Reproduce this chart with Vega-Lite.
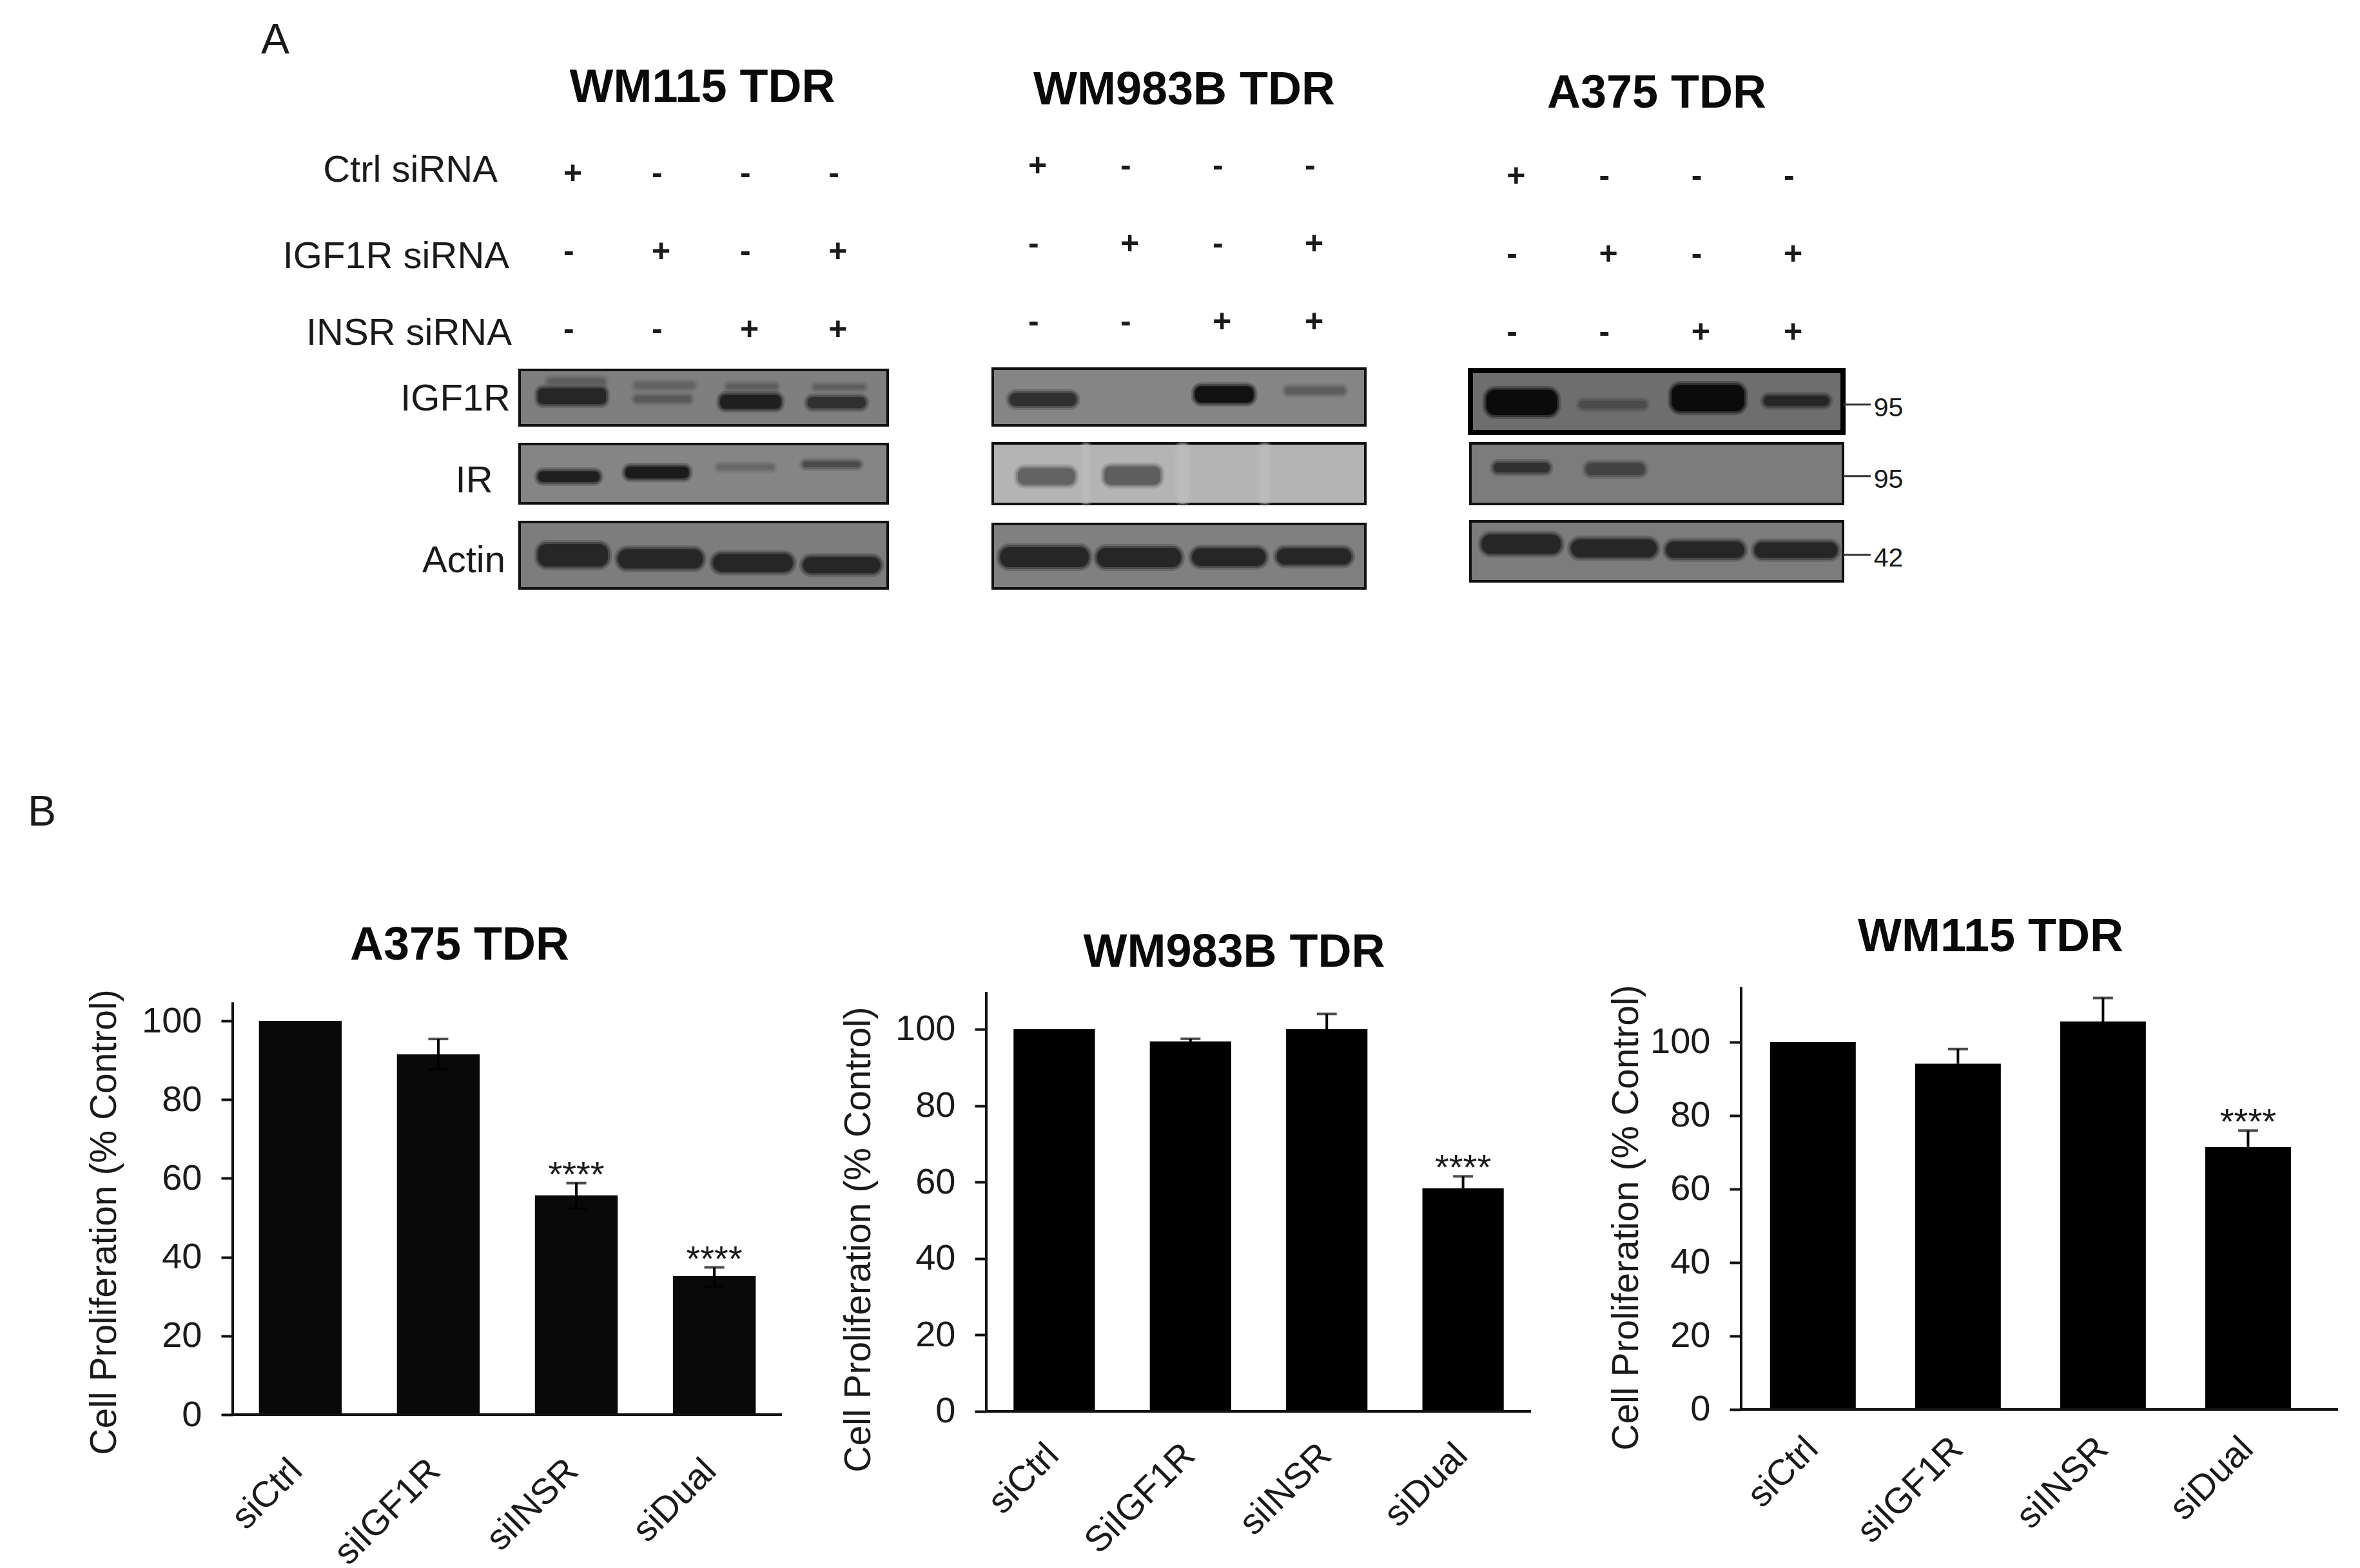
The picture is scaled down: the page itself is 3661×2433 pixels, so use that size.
{"$schema":"https://vega.github.io/schema/vega-lite/v6.json","background":"white","padding":{"left":42,"top":30,"right":0,"bottom":0},"bounds":"flush","spacing":1320,
"config":{"view":{"stroke":null},"font":"Liberation Sans","concat":{"spacing":0},"text":{"font":"Liberation Sans","color":"#1a1a1a"},"axis":{"labelFont":"Liberation Sans","titleFont":"Liberation Sans","labelColor":"#1a1a1a","titleColor":"#1a1a1a","grid":false}},
"datasets":{
"treat":[{"t":"Ctrl siRNA","lane":1,"s":"+"},{"t":"Ctrl siRNA","lane":2,"s":"-"},{"t":"Ctrl siRNA","lane":3,"s":"-"},{"t":"Ctrl siRNA","lane":4,"s":"-"},{"t":"IGF1R siRNA","lane":1,"s":"-"},{"t":"IGF1R siRNA","lane":2,"s":"+"},{"t":"IGF1R siRNA","lane":3,"s":"-"},{"t":"IGF1R siRNA","lane":4,"s":"+"},{"t":"INSR siRNA","lane":1,"s":"-"},{"t":"INSR siRNA","lane":2,"s":"-"},{"t":"INSR siRNA","lane":3,"s":"+"},{"t":"INSR siRNA","lane":4,"s":"+"}],
"treatLabels":[{"t":"Ctrl siRNA","lane":0.255},{"t":"IGF1R siRNA","lane":0.387},{"t":"INSR siRNA","lane":0.416}],
"bands":[
{"b":"115I","x0":0.3,"x1":0.93,"y0":0.16,"y1":0.26,"d":0.6},{"b":"115I","x0":0.2,"x1":0.94,"y0":0.33,"y1":0.62,"d":0.85},{"b":"115I","x0":1.25,"x1":1.9,"y0":0.23,"y1":0.33,"d":0.58},{"b":"115I","x0":1.25,"x1":1.86,"y0":0.47,"y1":0.58,"d":0.62},{"b":"115I","x0":2.25,"x1":2.8,"y0":0.26,"y1":0.35,"d":0.6},{"b":"115I","x0":2.18,"x1":2.84,"y0":0.45,"y1":0.7,"d":0.88},{"b":"115I","x0":3.2,"x1":3.75,"y0":0.27,"y1":0.35,"d":0.6},{"b":"115I","x0":3.13,"x1":3.76,"y0":0.49,"y1":0.69,"d":0.8},
{"b":"115R","x0":0.2,"x1":0.87,"y0":0.46,"y1":0.64,"d":0.88},{"b":"115R","x0":1.15,"x1":1.84,"y0":0.38,"y1":0.58,"d":0.9},{"b":"115R","x0":2.15,"x1":2.76,"y0":0.35,"y1":0.43,"d":0.57},{"b":"115R","x0":3.08,"x1":3.7,"y0":0.3,"y1":0.39,"d":0.68},
{"b":"115A","x0":0.2,"x1":0.96,"y0":0.33,"y1":0.67,"d":0.85},{"b":"115A","x0":1.07,"x1":1.99,"y0":0.41,"y1":0.7,"d":0.85},{"b":"115A","x0":2.1,"x1":2.97,"y0":0.48,"y1":0.75,"d":0.85},{"b":"115A","x0":3.08,"x1":3.92,"y0":0.53,"y1":0.77,"d":0.85},
{"b":"983I","x0":0.18,"x1":0.9,"y0":0.43,"y1":0.66,"d":0.8},{"b":"983I","x0":2.17,"x1":2.8,"y0":0.31,"y1":0.6,"d":0.95},{"b":"983I","x0":3.14,"x1":3.78,"y0":0.33,"y1":0.45,"d":0.6},
{"b":"983R","x0":0.97,"x1":1.03,"y0":0.03,"y1":0.97,"d":0.24},{"b":"983R","x0":1.98,"x1":2.1,"y0":0.03,"y1":0.97,"d":0.24},{"b":"983R","x0":2.87,"x1":2.97,"y0":0.03,"y1":0.97,"d":0.24},{"b":"983R","x0":0.27,"x1":0.88,"y0":0.41,"y1":0.68,"d":0.58},{"b":"983R","x0":1.2,"x1":1.8,"y0":0.38,"y1":0.68,"d":0.6},
{"b":"983A","x0":0.08,"x1":1.03,"y0":0.36,"y1":0.67,"d":0.85},{"b":"983A","x0":1.12,"x1":2.02,"y0":0.37,"y1":0.67,"d":0.85},{"b":"983A","x0":2.14,"x1":2.93,"y0":0.38,"y1":0.65,"d":0.85},{"b":"983A","x0":3.05,"x1":3.85,"y0":0.38,"y1":0.63,"d":0.85},
{"b":"375I","x0":0.17,"x1":0.93,"y0":0.31,"y1":0.72,"d":0.97},{"b":"375I","x0":1.17,"x1":1.89,"y0":0.49,"y1":0.61,"d":0.68},{"b":"375I","x0":2.16,"x1":2.94,"y0":0.23,"y1":0.66,"d":0.97},{"b":"375I","x0":3.15,"x1":3.85,"y0":0.41,"y1":0.57,"d":0.85},
{"b":"375R","x0":0.25,"x1":0.85,"y0":0.32,"y1":0.48,"d":0.8},{"b":"375R","x0":1.24,"x1":1.87,"y0":0.33,"y1":0.52,"d":0.72},
{"b":"375A","x0":0.12,"x1":0.97,"y0":0.22,"y1":0.54,"d":0.85},{"b":"375A","x0":1.08,"x1":2.0,"y0":0.3,"y1":0.6,"d":0.85},{"b":"375A","x0":2.1,"x1":2.94,"y0":0.34,"y1":0.61,"d":0.85},{"b":"375A","x0":3.05,"x1":3.94,"y0":0.35,"y1":0.61,"d":0.85}],
"blotLabels":[{"b":"115I","text":"IGF1R","x":-0.098,"y":0.54},{"b":"115R","text":"IR","x":-0.29,"y":0.63},{"b":"115A","text":"Actin","x":-0.154,"y":0.59}],
"markers":[{"b":"375I","kDa":"95","x0":4,"x1":4.297,"tx":4.33,"y":0.55},{"b":"375R","kDa":"95","x0":4,"x1":4.297,"tx":4.33,"y":0.54},{"b":"375A","kDa":"42","x0":4,"x1":4.297,"tx":4.33,"y":0.56}],
"bars":[
{"p":"A375","t":"siCtrl","v":100},{"p":"A375","t":"siIGF1R","v":91.5,"lo":87.7,"hi":95.4},{"p":"A375","t":"siINSR","v":55.7,"lo":52.3,"hi":58.8,"st":"****"},{"p":"A375","t":"siDual","v":35.2,"lo":32.5,"hi":37.4,"st":"****"},
{"p":"WM983B","t":"siCtrl","v":100},{"p":"WM983B","t":"SiIGF1R","v":96.8,"lo":96.8,"hi":97.5},{"p":"WM983B","t":"siINSR","v":100,"lo":100,"hi":104},{"p":"WM983B","t":"siDual","v":58.4,"lo":58.4,"hi":61.5,"st":"****"},
{"p":"WM115","t":"siCtrl","v":100},{"p":"WM115","t":"siIGF1R","v":94.1,"lo":94.1,"hi":98.1},{"p":"WM115","t":"siINSR","v":105.6,"lo":105.6,"hi":112},{"p":"WM115","t":"siDual","v":71.4,"lo":71.4,"hi":75.9,"st":"****"}]
},
"vconcat":[
{"bounds":"flush","spacing":0,"title":{"text":"A","fontSize":66,"fontWeight":"normal","anchor":"start","dx":44,"offset":3,"color":"#1a1a1a","font":"Liberation Sans"},
"hconcat":[
{"width":445,"height":1,"data":{"values":[]},"mark":"point"},
{"bounds":"flush","spacing":0,"vconcat":[
{"width":10,"height":66,"data":{"values":[]},"mark":"point"},
{"width":571,"height":242,"title":{"text":"WM115 TDR","font":"Liberation Sans","fontSize":72,"fontWeight":"bold","anchor":"middle","offset":63,"dx":-2,"color":"#0a0a0a"},
"encoding":{"y":{"field":"t","type":"nominal","sort":null,"axis":null,"scale":{"type":"point","padding":0,"domain":["Ctrl siRNA","IGF1R siRNA","INSR siRNA"]}},"x":{"field":"lane","type":"quantitative","axis":null,"scale":{"domain":[0.504,4.67],"nice":false,"zero":false}}},
"layer":[{"data":{"name":"treat"},"mark":{"type":"text","fontSize":50,"fontWeight":"bold","align":"left","baseline":"middle"},"encoding":{"text":{"field":"s"}}},
{"data":{"name":"treatLabels"},"transform":[{"filter":"datum.t=='Ctrl siRNA'"}],"mark":{"type":"text","fontSize":58,"align":"right","baseline":"middle","dy":-5},"encoding":{"text":{"field":"t"}}},
{"data":{"name":"treatLabels"},"transform":[{"filter":"datum.t=='IGF1R siRNA'"}],"mark":{"type":"text","fontSize":58,"align":"right","baseline":"middle","dy":8},"encoding":{"text":{"field":"t"}}},
{"data":{"name":"treatLabels"},"transform":[{"filter":"datum.t=='INSR siRNA'"}],"mark":{"type":"text","fontSize":58,"align":"right","baseline":"middle","dy":6},"encoding":{"text":{"field":"t"}}}]},
{"width":10,"height":62,"data":{"values":[]},"mark":"point"},
{"width":571,"height":86,"view":{"fill":"#7f7f7f","stroke":"#111","strokeWidth":4},"layer":[
{"data":{"name":"bands"},"transform":[{"filter":"datum.b=='115I'"}],"encoding":{"x":{"field":"x0","type":"quantitative","axis":null,"scale":{"domain":[0,4],"nice":false,"zero":false}},"x2":{"field":"x1"},"y":{"field":"y0","type":"quantitative","axis":null,"scale":{"domain":[0,1],"reverse":true,"nice":false,"zero":false}},"y2":{"field":"y1"},"fill":{"field":"d","type":"quantitative","legend":null,"scale":{"domain":[0,1],"range":["#ffffff","#000000"]}},"stroke":{"field":"d","type":"quantitative","legend":null,"scale":{"domain":[0,1],"range":["#ffffff","#000000"]}}},
"layer":[{"mark":{"type":"rect","cornerRadius":8,"strokeWidth":12,"opacity":0.25,"strokeJoin":"round"}},{"mark":{"type":"rect","cornerRadius":8,"strokeWidth":6,"opacity":0.45,"strokeJoin":"round"}},{"mark":{"type":"rect","cornerRadius":8,"strokeWidth":0}}]},
{"data":{"name":"blotLabels"},"transform":[{"filter":"datum.b=='115I'"}],"mark":{"type":"text","fontSize":58,"align":"right","baseline":"middle"},"encoding":{"x":{"field":"x","type":"quantitative"},"y":{"field":"y","type":"quantitative"},"text":{"field":"text"}}}]},
{"width":10,"height":29,"data":{"values":[]},"mark":"point"},
{"width":571,"height":92,"view":{"fill":"#858585","stroke":"#111","strokeWidth":4},"layer":[
{"data":{"name":"bands"},"transform":[{"filter":"datum.b=='115R'"}],"encoding":{"x":{"field":"x0","type":"quantitative","axis":null,"scale":{"domain":[0,4],"nice":false,"zero":false}},"x2":{"field":"x1"},"y":{"field":"y0","type":"quantitative","axis":null,"scale":{"domain":[0,1],"reverse":true,"nice":false,"zero":false}},"y2":{"field":"y1"},"fill":{"field":"d","type":"quantitative","legend":null,"scale":{"domain":[0,1],"range":["#ffffff","#000000"]}},"stroke":{"field":"d","type":"quantitative","legend":null,"scale":{"domain":[0,1],"range":["#ffffff","#000000"]}}},
"layer":[{"mark":{"type":"rect","cornerRadius":8,"strokeWidth":12,"opacity":0.25,"strokeJoin":"round"}},{"mark":{"type":"rect","cornerRadius":8,"strokeWidth":6,"opacity":0.45,"strokeJoin":"round"}},{"mark":{"type":"rect","cornerRadius":8,"strokeWidth":0}}]},
{"data":{"name":"blotLabels"},"transform":[{"filter":"datum.b=='115R'"}],"mark":{"type":"text","fontSize":58,"align":"right","baseline":"middle"},"encoding":{"x":{"field":"x","type":"quantitative"},"y":{"field":"y","type":"quantitative"},"text":{"field":"text"}}}]},
{"width":10,"height":29,"data":{"values":[]},"mark":"point"},
{"width":571,"height":103,"view":{"fill":"#7d7d7d","stroke":"#111","strokeWidth":4},"layer":[
{"data":{"name":"bands"},"transform":[{"filter":"datum.b=='115A'"}],"encoding":{"x":{"field":"x0","type":"quantitative","axis":null,"scale":{"domain":[0,4],"nice":false,"zero":false}},"x2":{"field":"x1"},"y":{"field":"y0","type":"quantitative","axis":null,"scale":{"domain":[0,1],"reverse":true,"nice":false,"zero":false}},"y2":{"field":"y1"},"fill":{"field":"d","type":"quantitative","legend":null,"scale":{"domain":[0,1],"range":["#ffffff","#000000"]}},"stroke":{"field":"d","type":"quantitative","legend":null,"scale":{"domain":[0,1],"range":["#ffffff","#000000"]}}},
"layer":[{"mark":{"type":"rect","cornerRadius":14,"strokeWidth":12,"opacity":0.25,"strokeJoin":"round"}},{"mark":{"type":"rect","cornerRadius":14,"strokeWidth":6,"opacity":0.45,"strokeJoin":"round"}},{"mark":{"type":"rect","cornerRadius":14,"strokeWidth":0}}]},
{"data":{"name":"blotLabels"},"transform":[{"filter":"datum.b=='115A'"}],"mark":{"type":"text","fontSize":58,"align":"right","baseline":"middle"},"encoding":{"x":{"field":"x","type":"quantitative"},"y":{"field":"y","type":"quantitative"},"text":{"field":"text"}}}]}
]},
{"width":734,"height":1,"data":{"values":[]},"mark":"point"},
{"bounds":"flush","spacing":0,"vconcat":[
{"width":10,"height":54,"data":{"values":[]},"mark":"point"},
{"width":578,"height":242,"title":{"text":"WM983B TDR","font":"Liberation Sans","fontSize":72,"fontWeight":"bold","anchor":"middle","offset":56,"dx":8,"color":"#0a0a0a"},
"data":{"name":"treat"},"mark":{"type":"text","fontSize":50,"fontWeight":"bold","align":"left","baseline":"middle"},"encoding":{"text":{"field":"s"},"y":{"field":"t","type":"nominal","sort":null,"axis":null,"scale":{"type":"point","padding":0,"domain":["Ctrl siRNA","IGF1R siRNA","INSR siRNA"]}},"x":{"field":"lane","type":"quantitative","axis":null,"scale":{"domain":[0.615,4.657],"nice":false,"zero":false}}}},
{"width":10,"height":72,"data":{"values":[]},"mark":"point"},
{"width":578,"height":88,"view":{"fill":"#858585","stroke":"#111","strokeWidth":4},"data":{"name":"bands"},"transform":[{"filter":"datum.b=='983I'"}],"encoding":{"x":{"field":"x0","type":"quantitative","axis":null,"scale":{"domain":[0,4],"nice":false,"zero":false}},"x2":{"field":"x1"},"y":{"field":"y0","type":"quantitative","axis":null,"scale":{"domain":[0,1],"reverse":true,"nice":false,"zero":false}},"y2":{"field":"y1"},"fill":{"field":"d","type":"quantitative","legend":null,"scale":{"domain":[0,1],"range":["#ffffff","#000000"]}},"stroke":{"field":"d","type":"quantitative","legend":null,"scale":{"domain":[0,1],"range":["#ffffff","#000000"]}}},
"layer":[{"mark":{"type":"rect","cornerRadius":10,"strokeWidth":12,"opacity":0.25,"strokeJoin":"round"}},{"mark":{"type":"rect","cornerRadius":10,"strokeWidth":6,"opacity":0.45,"strokeJoin":"round"}},{"mark":{"type":"rect","cornerRadius":10,"strokeWidth":0}}]},
{"width":10,"height":28,"data":{"values":[]},"mark":"point"},
{"width":578,"height":94,"view":{"fill":"#b4b4b4","stroke":"#111","strokeWidth":4},"data":{"name":"bands"},"transform":[{"filter":"datum.b=='983R'"}],"encoding":{"x":{"field":"x0","type":"quantitative","axis":null,"scale":{"domain":[0,4],"nice":false,"zero":false}},"x2":{"field":"x1"},"y":{"field":"y0","type":"quantitative","axis":null,"scale":{"domain":[0,1],"reverse":true,"nice":false,"zero":false}},"y2":{"field":"y1"},"fill":{"field":"d","type":"quantitative","legend":null,"scale":{"domain":[0,1],"range":["#ffffff","#000000"]}},"stroke":{"field":"d","type":"quantitative","legend":null,"scale":{"domain":[0,1],"range":["#ffffff","#000000"]}}},
"layer":[{"mark":{"type":"rect","cornerRadius":10,"strokeWidth":12,"opacity":0.25,"strokeJoin":"round"}},{"mark":{"type":"rect","cornerRadius":10,"strokeWidth":6,"opacity":0.45,"strokeJoin":"round"}},{"mark":{"type":"rect","cornerRadius":10,"strokeWidth":0}}]},
{"width":10,"height":31,"data":{"values":[]},"mark":"point"},
{"width":578,"height":100,"view":{"fill":"#808080","stroke":"#111","strokeWidth":4},"data":{"name":"bands"},"transform":[{"filter":"datum.b=='983A'"}],"encoding":{"x":{"field":"x0","type":"quantitative","axis":null,"scale":{"domain":[0,4],"nice":false,"zero":false}},"x2":{"field":"x1"},"y":{"field":"y0","type":"quantitative","axis":null,"scale":{"domain":[0,1],"reverse":true,"nice":false,"zero":false}},"y2":{"field":"y1"},"fill":{"field":"d","type":"quantitative","legend":null,"scale":{"domain":[0,1],"range":["#ffffff","#000000"]}},"stroke":{"field":"d","type":"quantitative","legend":null,"scale":{"domain":[0,1],"range":["#ffffff","#000000"]}}},
"layer":[{"mark":{"type":"rect","cornerRadius":14,"strokeWidth":12,"opacity":0.25,"strokeJoin":"round"}},{"mark":{"type":"rect","cornerRadius":14,"strokeWidth":6,"opacity":0.45,"strokeJoin":"round"}},{"mark":{"type":"rect","cornerRadius":14,"strokeWidth":0}}]}
]},
{"width":741,"height":1,"data":{"values":[]},"mark":"point"},
{"bounds":"flush","spacing":0,"vconcat":[
{"width":10,"height":70,"data":{"values":[]},"mark":"point"},
{"width":578,"height":242,"title":{"text":"A375 TDR","font":"Liberation Sans","fontSize":72,"fontWeight":"bold","anchor":"middle","offset":67,"dx":0,"color":"#0a0a0a"},
"data":{"name":"treat"},"mark":{"type":"text","fontSize":50,"fontWeight":"bold","align":"left","baseline":"middle"},"encoding":{"text":{"field":"s"},"y":{"field":"t","type":"nominal","sort":null,"axis":null,"scale":{"type":"point","padding":0,"domain":["Ctrl siRNA","IGF1R siRNA","INSR siRNA"]}},"x":{"field":"lane","type":"quantitative","axis":null,"scale":{"domain":[0.608,4.643],"nice":false,"zero":false}}}},
{"width":10,"height":59,"data":{"values":[]},"mark":"point"},
{"width":578,"height":96,"view":{"fill":"#6e6e6e","stroke":"#000","strokeWidth":8},"layer":[
{"data":{"name":"bands"},"transform":[{"filter":"datum.b=='375I'"}],"encoding":{"x":{"field":"x0","type":"quantitative","axis":null,"scale":{"domain":[0,4],"nice":false,"zero":false}},"x2":{"field":"x1"},"y":{"field":"y0","type":"quantitative","axis":null,"scale":{"domain":[0,1],"reverse":true,"nice":false,"zero":false}},"y2":{"field":"y1"},"fill":{"field":"d","type":"quantitative","legend":null,"scale":{"domain":[0,1],"range":["#ffffff","#000000"]}},"stroke":{"field":"d","type":"quantitative","legend":null,"scale":{"domain":[0,1],"range":["#ffffff","#000000"]}}},
"layer":[{"mark":{"type":"rect","cornerRadius":14,"strokeWidth":12,"opacity":0.25,"strokeJoin":"round"}},{"mark":{"type":"rect","cornerRadius":14,"strokeWidth":6,"opacity":0.45,"strokeJoin":"round"}},{"mark":{"type":"rect","cornerRadius":14,"strokeWidth":0}}]},
{"data":{"name":"markers"},"transform":[{"filter":"datum.b=='375I'"}],"mark":{"type":"rule","color":"#333","strokeWidth":3},"encoding":{"x":{"field":"x0","type":"quantitative"},"x2":{"field":"x1"},"y":{"field":"y","type":"quantitative"}}},
{"data":{"name":"markers"},"transform":[{"filter":"datum.b=='375I'"}],"mark":{"type":"text","fontSize":41,"align":"left","baseline":"middle","dy":6},"encoding":{"x":{"field":"tx","type":"quantitative"},"y":{"field":"y","type":"quantitative"},"text":{"field":"kDa"}}}]},
{"width":10,"height":17,"data":{"values":[]},"mark":"point"},
{"width":578,"height":94,"view":{"fill":"#7c7c7c","stroke":"#111","strokeWidth":4},"layer":[
{"data":{"name":"bands"},"transform":[{"filter":"datum.b=='375R'"}],"encoding":{"x":{"field":"x0","type":"quantitative","axis":null,"scale":{"domain":[0,4],"nice":false,"zero":false}},"x2":{"field":"x1"},"y":{"field":"y0","type":"quantitative","axis":null,"scale":{"domain":[0,1],"reverse":true,"nice":false,"zero":false}},"y2":{"field":"y1"},"fill":{"field":"d","type":"quantitative","legend":null,"scale":{"domain":[0,1],"range":["#ffffff","#000000"]}},"stroke":{"field":"d","type":"quantitative","legend":null,"scale":{"domain":[0,1],"range":["#ffffff","#000000"]}}},
"layer":[{"mark":{"type":"rect","cornerRadius":8,"strokeWidth":12,"opacity":0.25,"strokeJoin":"round"}},{"mark":{"type":"rect","cornerRadius":8,"strokeWidth":6,"opacity":0.45,"strokeJoin":"round"}},{"mark":{"type":"rect","cornerRadius":8,"strokeWidth":0}}]},
{"data":{"name":"markers"},"transform":[{"filter":"datum.b=='375R'"}],"mark":{"type":"rule","color":"#333","strokeWidth":3},"encoding":{"x":{"field":"x0","type":"quantitative"},"x2":{"field":"x1"},"y":{"field":"y","type":"quantitative"}}},
{"data":{"name":"markers"},"transform":[{"filter":"datum.b=='375R'"}],"mark":{"type":"text","fontSize":41,"align":"left","baseline":"middle","dy":6},"encoding":{"x":{"field":"tx","type":"quantitative"},"y":{"field":"y","type":"quantitative"},"text":{"field":"kDa"}}}]},
{"width":10,"height":27,"data":{"values":[]},"mark":"point"},
{"width":578,"height":93,"view":{"fill":"#7c7c7c","stroke":"#111","strokeWidth":4},"layer":[
{"data":{"name":"bands"},"transform":[{"filter":"datum.b=='375A'"}],"encoding":{"x":{"field":"x0","type":"quantitative","axis":null,"scale":{"domain":[0,4],"nice":false,"zero":false}},"x2":{"field":"x1"},"y":{"field":"y0","type":"quantitative","axis":null,"scale":{"domain":[0,1],"reverse":true,"nice":false,"zero":false}},"y2":{"field":"y1"},"fill":{"field":"d","type":"quantitative","legend":null,"scale":{"domain":[0,1],"range":["#ffffff","#000000"]}},"stroke":{"field":"d","type":"quantitative","legend":null,"scale":{"domain":[0,1],"range":["#ffffff","#000000"]}}},
"layer":[{"mark":{"type":"rect","cornerRadius":14,"strokeWidth":12,"opacity":0.25,"strokeJoin":"round"}},{"mark":{"type":"rect","cornerRadius":14,"strokeWidth":6,"opacity":0.45,"strokeJoin":"round"}},{"mark":{"type":"rect","cornerRadius":14,"strokeWidth":0}}]},
{"data":{"name":"markers"},"transform":[{"filter":"datum.b=='375A'"}],"mark":{"type":"rule","color":"#333","strokeWidth":3},"encoding":{"x":{"field":"x0","type":"quantitative"},"x2":{"field":"x1"},"y":{"field":"y","type":"quantitative"}}},
{"data":{"name":"markers"},"transform":[{"filter":"datum.b=='375A'"}],"mark":{"type":"text","fontSize":41,"align":"left","baseline":"middle","dy":6},"encoding":{"x":{"field":"tx","type":"quantitative"},"y":{"field":"y","type":"quantitative"},"text":{"field":"kDa"}}}]}
]}
]},
{"bounds":"flush","spacing":0,"title":{"text":"B","fontSize":66,"fontWeight":"normal","anchor":"start","dx":-90,"offset":123,"color":"#1a1a1a","font":"Liberation Sans"},
"hconcat":[
{"width":852,"height":675,"title":{"text":"A375 TDR","font":"Liberation Sans","fontSize":72,"fontWeight":"bold","anchor":"middle","offset":20,"dx":-74,"color":"#0a0a0a"},
"data":{"name":"bars"},"transform":[{"filter":"datum.p=='A375'"}],
"encoding":{"x":{"field":"t","type":"nominal","sort":null,"title":null,"scale":{"domain":["siCtrl","siIGF1R","siINSR","siDual"],"paddingInner":0.4,"paddingOuter":0.19},"axis":{"domain":false,"ticks":false,"labelAngle":-45,"labelFontSize":56,"labelLimit":0,"labelAlign":"right","labelBaseline":"middle","labelOffset":-6,"labelPadding":74}},
"y":{"type":"quantitative","scale":{"domain":[-0.65,109.82],"nice":false,"zero":false}}},
"layer":[
{"mark":{"type":"bar","color":"#090909"},"encoding":{"y":{"field":"v","type":"quantitative","axis":{"values":[0,20,40,60,80,100],"domain":false,"tickSize":18,"tickWidth":4,"tickColor":"#111","labelFontSize":56,"labelPadding":30,"title":"Cell Proliferation (% Control)","titleFontSize":57,"titleFontWeight":"normal","titleAngle":-90,"titleBaseline":"middle","titleX":-199,"titleY":372}},"y2":{"datum":0}}},
{"transform":[{"filter":"isValid(datum.hi)"}],"mark":{"type":"rule","strokeWidth":4,"color":"#000"},"encoding":{"y":{"field":"lo","type":"quantitative"},"y2":{"field":"hi"}}},
{"transform":[{"filter":"isValid(datum.hi)"}],"mark":{"type":"tick","orient":"horizontal","size":31,"thickness":4,"color":"#000"},"encoding":{"y":{"field":"hi","type":"quantitative"}}},
{"transform":[{"filter":"isValid(datum.hi)"}],"mark":{"type":"tick","orient":"horizontal","size":31,"thickness":4,"color":"#000"},"encoding":{"y":{"field":"lo","type":"quantitative"}}},
{"transform":[{"filter":"isValid(datum.st)"}],"mark":{"type":"text","fontSize":56,"baseline":"middle","dy":-12},"encoding":{"y":{"field":"hi","type":"quantitative"},"text":{"field":"st"}}},
{"data":{"values":[{}]},"mark":{"type":"rule","strokeWidth":4,"color":"#111"},"encoding":{"x":{"value":0},"y":{"datum":0,"type":"quantitative"},"y2":{"datum":104.7}}},
{"data":{"values":[{}]},"mark":{"type":"rule","strokeWidth":4,"color":"#111"},"encoding":{"x":null,"y":{"datum":0,"type":"quantitative"}}}]},
{"width":316.5,"height":1,"data":{"values":[]},"mark":"point"},
{"width":845,"height":675,"title":{"text":"WM983B TDR","font":"Liberation Sans","fontSize":72,"fontWeight":"bold","anchor":"middle","offset":9,"dx":-38,"color":"#0a0a0a"},
"data":{"name":"bars"},"transform":[{"filter":"datum.p=='WM983B'"}],
"encoding":{"x":{"field":"t","type":"nominal","sort":null,"title":null,"scale":{"domain":["siCtrl","SiIGF1R","siINSR","siDual"],"paddingInner":0.403,"paddingOuter":0.2},"axis":{"domain":false,"ticks":false,"labelAngle":-45,"labelFontSize":56,"labelLimit":0,"labelAlign":"right","labelBaseline":"middle","labelOffset":-2,"labelPadding":50}},
"y":{"type":"quantitative","scale":{"domain":[-1.52,112.31],"nice":false,"zero":false}}},
"layer":[
{"mark":{"type":"bar","color":"#000"},"encoding":{"y":{"field":"v","type":"quantitative","axis":{"values":[0,20,40,60,80,100],"domain":false,"tickSize":18,"tickWidth":4,"tickColor":"#111","labelFontSize":56,"labelPadding":30,"title":"Cell Proliferation (% Control)","titleFontSize":57,"titleFontWeight":"normal","titleAngle":-90,"titleBaseline":"middle","titleX":-198,"titleY":399}},"y2":{"datum":0}}},
{"transform":[{"filter":"isValid(datum.hi)"}],"mark":{"type":"rule","strokeWidth":4,"color":"#000"},"encoding":{"y":{"field":"lo","type":"quantitative"},"y2":{"field":"hi"}}},
{"transform":[{"filter":"isValid(datum.hi)"}],"mark":{"type":"tick","orient":"horizontal","size":31,"thickness":4,"color":"#000"},"encoding":{"y":{"field":"hi","type":"quantitative"}}},
{"transform":[{"filter":"isValid(datum.st)"}],"mark":{"type":"text","fontSize":56,"baseline":"middle","dy":-12},"encoding":{"y":{"field":"hi","type":"quantitative"},"text":{"field":"st"}}},
{"data":{"values":[{}]},"mark":{"type":"rule","strokeWidth":4,"color":"#111"},"encoding":{"x":{"value":0},"y":{"datum":0,"type":"quantitative"},"y2":{"datum":109.8}}},
{"data":{"values":[{}]},"mark":{"type":"rule","strokeWidth":4,"color":"#111"},"encoding":{"x":null,"y":{"datum":0,"type":"quantitative"}}}]},
{"width":326,"height":1,"data":{"values":[]},"mark":"point"},
{"width":926,"height":675,"title":{"text":"WM115 TDR","font":"Liberation Sans","fontSize":72,"fontWeight":"bold","anchor":"middle","offset":33,"dx":-76,"color":"#0a0a0a"},
"data":{"name":"bars"},"transform":[{"filter":"datum.p=='WM115'"}],
"encoding":{"x":{"field":"t","type":"nominal","sort":null,"title":null,"scale":{"domain":["siCtrl","siIGF1R","siINSR","siDual"],"paddingInner":0.409,"paddingOuter":0.262,"align":0.38},"axis":{"domain":false,"ticks":false,"labelAngle":-45,"labelFontSize":56,"labelLimit":0,"labelAlign":"right","labelBaseline":"middle","labelOffset":-1,"labelPadding":40}},
"y":{"type":"quantitative","scale":{"domain":[-2.11,116.3],"nice":false,"zero":false}}},
"layer":[
{"mark":{"type":"bar","color":"#000"},"encoding":{"y":{"field":"v","type":"quantitative","axis":{"values":[0,20,40,60,80,100],"domain":false,"tickSize":18,"tickWidth":4,"tickColor":"#111","labelFontSize":56,"labelPadding":30,"title":"Cell Proliferation (% Control)","titleFontSize":57,"titleFontWeight":"normal","titleAngle":-90,"titleBaseline":"middle","titleX":-178,"titleY":365}},"y2":{"datum":0}}},
{"transform":[{"filter":"isValid(datum.hi)"}],"mark":{"type":"rule","strokeWidth":4,"color":"#000"},"encoding":{"y":{"field":"lo","type":"quantitative"},"y2":{"field":"hi"}}},
{"transform":[{"filter":"isValid(datum.hi)"}],"mark":{"type":"tick","orient":"horizontal","size":31,"thickness":4,"color":"#000"},"encoding":{"y":{"field":"hi","type":"quantitative"}}},
{"transform":[{"filter":"isValid(datum.st)"}],"mark":{"type":"text","fontSize":56,"baseline":"middle","dy":-12},"encoding":{"y":{"field":"hi","type":"quantitative"},"text":{"field":"st"}}},
{"data":{"values":[{}]},"mark":{"type":"rule","strokeWidth":4,"color":"#111"},"encoding":{"x":{"value":0},"y":{"datum":0,"type":"quantitative"},"y2":{"datum":115}}},
{"data":{"values":[{}]},"mark":{"type":"rule","strokeWidth":4,"color":"#111"},"encoding":{"x":null,"y":{"datum":0,"type":"quantitative"}}}]}
]}
]}
